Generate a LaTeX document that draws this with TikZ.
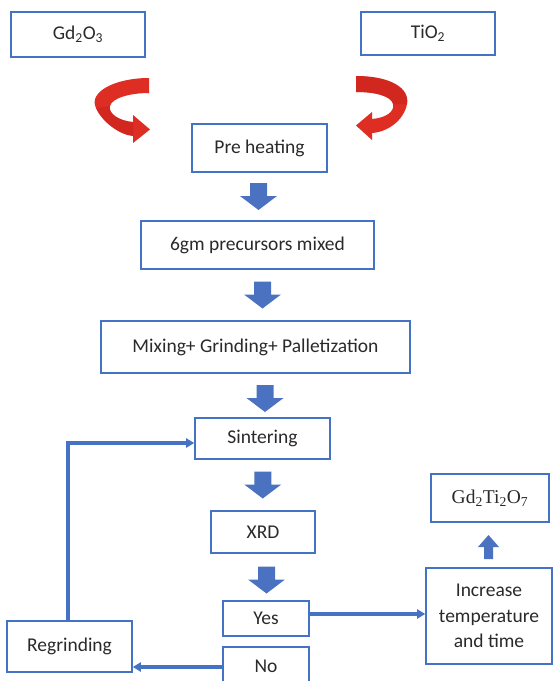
\documentclass[tikz,border=0pt]{standalone}
\usepackage{fontspec}
\setmainfont{Carlito}
\newfontfamily\timesfont{Liberation Serif}
\usetikzlibrary{calc,arrows.meta}
\definecolor{boxblue}{HTML}{4472C4}
\definecolor{arrowblue}{HTML}{4A72C0}
\definecolor{txt}{HTML}{2A2A2A}
\definecolor{redarrow}{RGB}{222,45,35}
\definecolor{reddark}{RGB}{190,30,25}
\tikzset{
  box/.style={draw=boxblue, line width=1.6pt, fill=white, text=txt, inner sep=0pt,
    align=center, font=\fontsize{19.5}{25.5}\selectfont},
  blockdown/.pic={\fill[arrowblue] (-8.5,-13.5) -- (8.5,-13.5) -- (8.5,-0.5) -- (18.5,-0.5) -- (0,13.5) -- (-18.5,-0.5) -- (-8.5,-0.5) -- cycle;},
  blockup/.pic={\fill[arrowblue] (-4.5,12) -- (4.5,12) -- (4.5,0) -- (10.5,0) -- (0,-12) -- (-10.5,0) -- (-4.5,0) -- cycle;},
  link/.style={draw=boxblue, line width=3.2pt, -{Triangle[length=8pt,width=9pt]}},
}
\begin{document}
\begin{tikzpicture}[x=1pt,y=-1pt]
\useasboundingbox (0,0) rectangle (554,681);
\clip (0,0) rectangle (554,681);
\fill[white] (0,0) rectangle (554,681);

\node[box, minimum width=134pt, minimum height=45pt] (gd) at (78,34.5) {Gd\textsubscript{2}O\textsubscript{3}};
\node[box, minimum width=134pt, minimum height=43pt] (ti) at (428,33.5) {TiO\textsubscript{2}};
\node[box, minimum width=135pt, minimum height=48pt] (pre) at (259.5,148) {Pre heating};
\node[box, minimum width=233pt, minimum height=48pt] (mixa) at (257.5,245) {6gm precursors mixed};
\node[box, minimum width=309pt, minimum height=52pt] (mixb) at (255.5,347) {Mixing+ Grinding+ Palletization};
\node[box, minimum width=135pt, minimum height=41pt] (sint) at (262.5,438.5) {Sintering};
\node[box, minimum width=104pt, minimum height=42pt] (xrd) at (263,532) {XRD};
\node[box, minimum width=86pt, minimum height=35pt] (yes) at (266,618.5) {Yes};
\node[box, minimum width=86pt, minimum height=38pt] (no) at (266,666) {No};
\node[box, minimum width=125pt, minimum height=51pt] (regr) at (69.5,646.5) {Regrinding};
\node[box, minimum width=118pt, minimum height=48pt, font=\timesfont\fontsize{19.5}{23}\selectfont] (prod) at (490,498) {Gd\textsubscript{2}Ti\textsubscript{2}O\textsubscript{7}};
\node[box, minimum width=126pt, minimum height=96pt] (incr) at (489,616) {Increase\\temperature\\and time};

% red curved arrows
\fill[redarrow] (149,78) .. controls (115,78) and (88,92) .. (96,108)
  .. controls (102,122) and (120,135) .. (133,136) -- (133,143) -- (150,129.5) -- (133,115) -- (133,122)
  .. controls (120,121) and (108,114) .. (110,106)
  .. controls (112,98) and (130,93) .. (149,93) -- cycle;
\fill[reddark, opacity=0.35] (96,108) .. controls (102,122) and (120,135) .. (133,136) -- (133,122)
  .. controls (120,121) and (108,114) .. (110,106) -- cycle;
\fill[redarrow] (356,76) .. controls (390,76) and (410,88) .. (407,104)
  .. controls (404,120) and (388,132) .. (372,133) -- (372,140) -- (356,125.5) -- (372,112) -- (372,119)
  .. controls (385,118) and (395,112) .. (393,104)
  .. controls (391,96) and (375,92) .. (356,92) -- cycle;
\fill[reddark, opacity=0.35] (356,76) .. controls (390,76) and (410,88) .. (407,104) -- (393,104)
  .. controls (391,96) and (375,92) .. (356,92) -- cycle;

% block arrows
\pic at ($(pre.south)!0.5!(mixa.north)$) {blockdown};
\pic at ($(mixa.south)!0.5!(mixb.north)+(6,0)$) {blockdown};
\pic at ($(mixb.south)!0.5!(sint.north)+(6,3)$) {blockdown};
\pic at ($(sint.south)!0.5!(xrd.north)$) {blockdown};
\pic at ($(xrd.south)!0.5!(yes.north)+(2,3)$) {blockdown};
\pic at ($(incr.north)!0.5!(prod.south)+(-1,2)$) {blockup};

% connectors
\draw[link] ([xshift=-1.5pt]regr.north) |- ([yshift=-4.5pt]sint.west);
\draw[link] ([yshift=4.5pt]yes.east) -- ([yshift=2pt]incr.west);
\draw[link] ([yshift=-1pt]no.west) -- ([yshift=-1pt]no.west -| regr.east);
\end{tikzpicture}
\end{document}
